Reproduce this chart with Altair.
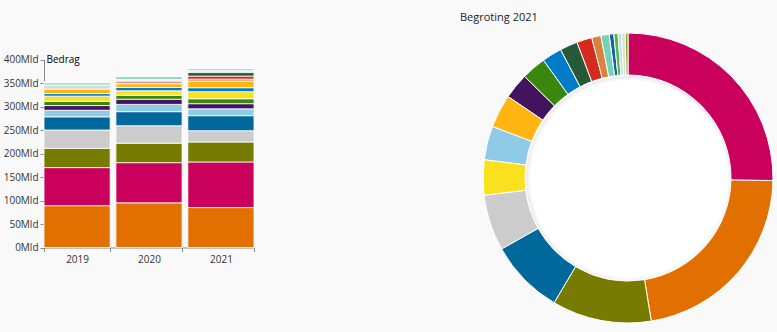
import math
import altair as alt
import pandas as pd

categories = [
    "Sociale Zaken en Werkgelegenheid", "Volksgezondheid, Welzijn en Sport", "Onderwijs, Cultuur en Wetenschap",
    "Gemeentefonds", "Financiën en Nationale Schuld", "Infrastructuur en Waterstaat", "Defensie",
    "Justitie en Veiligheid", "Economische Zaken en Klimaat", "Binnenlandse Zaken", "Buitenlandse Handel en Ontwikkelingssamenwerking",
    "Provinciefonds", "Landbouw, Natuur en Voedselkwaliteit", "Wonen en Rijksdienst", "Buitenlandse Zaken",
    "Koninkrijksrelaties", "Deltafonds", "Mobiliteitsfonds", "Staten-Generaal", "Overige Hoge Colleges van Staat",
]
colors = [
    "#e17000", "#ca005d", "#777c00", "#cccccc", "#01689b", "#8fcae7", "#42145f",
    "#39870c", "#f9e11e", "#007bc7", "#ffb612", "#d9813d", "#d52b1e", "#275937",
    "#1560a8", "#52b848", "#8fa51c", "#76d2b6", "#b7e4dc", "#dcdcdc",
]
years = ["2019", "2020", "2021"]
values_2019 = [89, 81, 41, 39, 28, 14, 10, 9, 11, 5.5, 9, 2, 2.5, 2.5, 1, 0.8, 0.7, 4.5, 1, 1]
values_2020 = [95, 85.5, 41.5, 37, 30, 15.5, 11, 8.5, 9.5, 7, 8, 1.5, 3, 2.5, 1, 0.8, 0.7, 5.5, 1, 1]
values_2021 = [85, 97, 42.5, 24, 32, 14.5, 11, 10.5, 15, 8.5, 14.2, 4, 6.5, 7.5, 2, 1.8, 1.2, 3.5, 1.5, 1.5]
y_ticks = [0, 50, 100, 150, 200, 250, 300, 350, 400]

rows = []
for vals, yr in zip([values_2019, values_2020, values_2021], years):
    for i, c in enumerate(categories):
        rows.append({"categorie": c, "jaar": yr, "bedrag": vals[i], "volgorde": i})
bars_df = pd.DataFrame(rows)
donut_df = pd.DataFrame({"categorie": categories, "bedrag": values_2021})

color = alt.Color("categorie:N", scale=alt.Scale(domain=categories, range=colors), legend=None)

bars = alt.Chart(bars_df).mark_bar(stroke="white", strokeWidth=1, strokeOpacity=0.8).encode(
    x=alt.X("jaar:N", scale=alt.Scale(range=[44, 254], paddingInner=0.08, paddingOuter=0),
            axis=alt.Axis(title=None, labelAngle=0, offset=-84.5, tickBand="extent", tickSize=4,
                          domainColor="#888", tickColor="#888", labelFont="Open Sans",
                          labelFontSize=10, labelColor="#333", labelPadding=3)),
    y=alt.Y("bedrag:Q", stack=True,
            scale=alt.Scale(domain=[0, 400], range=[247.5, 59.5], nice=False),
            axis=alt.Axis(values=y_ticks, labelExpr="datum.value + 'Mld'", title="Bedrag",
                          titleAngle=0, titleX=2, titleY=59.5, titleAlign="left",
                          titleBaseline="middle", titleFont="Open Sans", titleFontSize=10,
                          titleFontWeight="normal", titleColor="#000", offset=-44, grid=False,
                          tickSize=4, domainColor="#888", tickColor="#888", labelFont="Open Sans",
                          labelFontSize=10, labelColor="#333", labelPadding=2)),
    color=color,
    order=alt.Order("volgorde:Q", sort="ascending"),
)

hole = alt.Chart(pd.DataFrame({"a": [0]})).mark_arc(
    radius=103, theta=0, theta2=2 * math.pi, fill="white"
).encode(x=alt.value(628), y=alt.value(178))

shadow1 = alt.Chart(pd.DataFrame({"a": [0]})).mark_arc(
    radius=103, radius2=101, theta=0, theta2=2 * math.pi, fill="#000", opacity=0.07
).encode(x=alt.value(629), y=alt.value(179))

shadow2 = alt.Chart(pd.DataFrame({"a": [0]})).mark_arc(
    radius=101, radius2=99, theta=0, theta2=2 * math.pi, fill="#000", opacity=0.03
).encode(x=alt.value(629), y=alt.value(179))

donut = alt.Chart(donut_df).mark_arc(radius=145, radius2=103, stroke="white", strokeWidth=1).encode(
    theta=alt.Theta("bedrag:Q", stack=True),
    order=alt.Order("bedrag:Q", sort="descending"),
    color=color,
    x=alt.value(628),
    y=alt.value(178),
)

title = alt.Chart(pd.DataFrame({"t": ["Begroting 2021"]})).mark_text(
    align="left", baseline="middle", fontSize=11, font="Open Sans", color="#222"
).encode(x=alt.value(460), y=alt.value(18), text="t:N")

chart = alt.layer(bars, hole, shadow1, shadow2, donut, title).properties(
    width=777, height=332, autosize=alt.AutoSizeParams(type="none"), padding=0,
    background="#f9f9f9",
).configure_view(stroke=None)

chart.save("out.html", embed_options={"renderer": "svg", "actions": False})
